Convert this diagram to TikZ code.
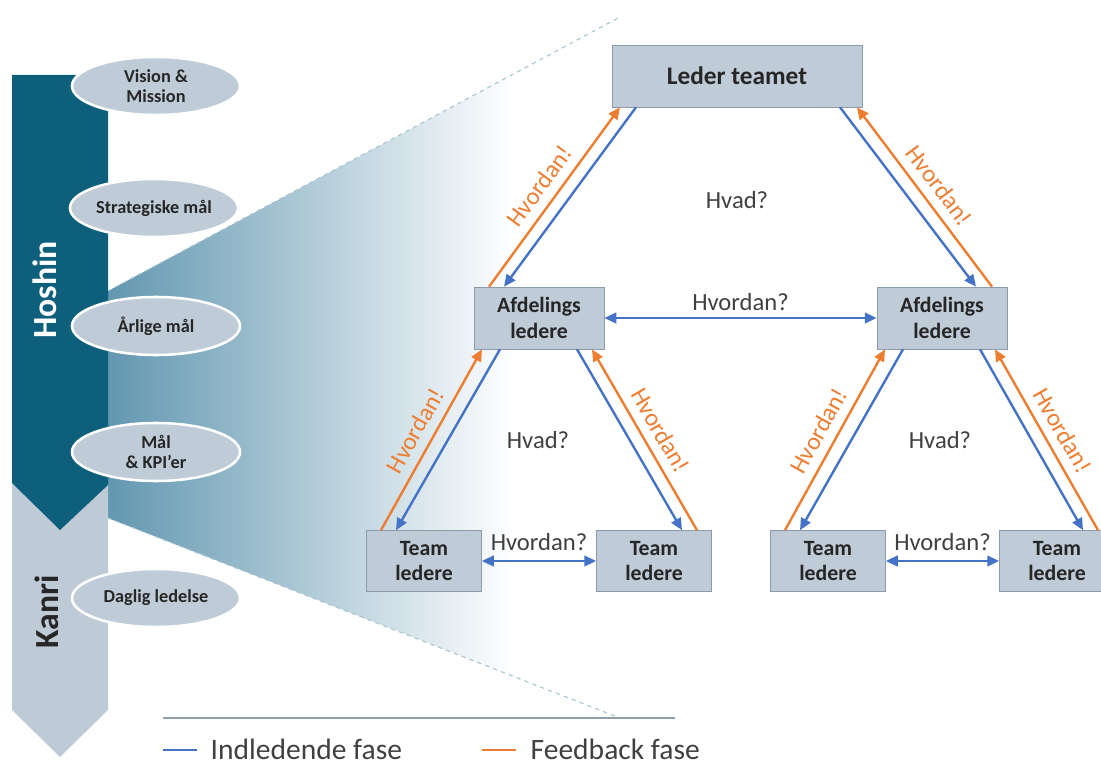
\documentclass[tikz,border=0pt]{standalone}
\usepackage{fontspec}
\setmainfont{Carlito}
\usetikzlibrary{calc,arrows.meta,shapes.geometric}
\definecolor{hoshin}{RGB}{13,95,124}
\definecolor{kanri}{RGB}{190,202,214}
\definecolor{boks}{RGB}{191,203,215}
\definecolor{kant}{RGB}{140,155,172}
\definecolor{fade}{RGB}{98,151,176}
\definecolor{blaa}{RGB}{68,114,196}
\definecolor{feedb}{RGB}{237,125,49}
\definecolor{tekst}{RGB}{64,64,64}
\definecolor{streg}{RGB}{140,160,176}
\definecolor{stiplet}{RGB}{170,196,208}
\tikzset{
  leder/.style={draw=kant, fill=boks, text=black!85, align=center, inner sep=0pt,
    font=\bfseries\fontsize{15.5}{18}\selectfont, minimum width=3.25cm, minimum height=1.55cm},
  team/.style={leder, minimum width=2.875cm, minimum height=1.525cm},
  maal/.style={ellipse, draw=white, line width=1.8pt, fill=boks, text=black!85, align=center,
    inner sep=0pt, minimum width=4.2cm, minimum height=1.45cm,
    font=\bfseries\fontsize{13}{14.5}\selectfont},
  ned/.style={blaa, line width=1.7pt, -{Triangle[length=8.5pt,width=7.5pt]}},
  op/.style={feedb, line width=1.7pt, -{Triangle[length=8.5pt,width=7.5pt]}},
  begge/.style={ned, {Triangle[length=8.5pt,width=7.5pt]}-{Triangle[length=8.5pt,width=7.5pt]}},
  hvordan/.style={feedb, font=\fontsize{17.5}{20}\selectfont, sloped, above=3pt, midway},
  spm/.style={text=tekst, font=\fontsize{17.5}{20}\selectfont},
}
\begin{document}
\begin{tikzpicture}[x=0.025cm, y=-0.025cm]
\clip (0,0) rectangle (1101,762);
\begin{scope}
\clip (108,291) -- (620,17) -- (620,718) -- (108,518) -- cycle;
\shade [left color=fade, middle color=fade!75!white, right color=white] (108,0) rectangle (515,762);
\end{scope}
\draw [stiplet, dashed, thick] (108,291) -- (620,17);
\draw [stiplet, dashed, thick] (108,518) -- (620,718);
\draw [streg, line width=2pt] (163,718) -- (675,718);

\fill [kanri] (12,483) -- (108,483) -- (108,710) -- (60,757) -- (12,710) -- cycle;
\fill [hoshin] (12,75) -- (108,75) -- (108,485) -- (60,530) -- (12,483) -- cycle;
\node [rotate=90, text=white, font=\bfseries\fontsize{24}{24}\selectfont] (hoshintxt) at (45,290) {Hoshin};
\node [rotate=90, text=black!85, font=\bfseries\fontsize{24}{24}\selectfont] (kanritxt) at (47,612) {Kanri};

\node [maal] (vision) at (156,86) {Vision \&\\Mission};
\node [maal] (strat) at (154,208) {Strategiske mål};
\node [maal] (aarlig) at (156,326) {Årlige mål};
\node [maal] (kpi) at (156,452) {Mål\\\& KPI’er};
\node [maal] (daglig) at (156,598) {Daglig ledelse};

\node [leder, minimum width=6.25cm, font=\bfseries\fontsize{18}{20}\selectfont] (lederteam) at (737,76) {Leder teamet};
\node [leder] (afdL) at (539,318) {Afdelings\\ledere};
\node [leder] (afdR) at (942,318) {Afdelings\\ledere};
\node [team] (team1) at (424,561) {Team\\ledere};
\node [team] (team2) at (654,561) {Team\\ledere};
\node [team] (team3) at (828,561) {Team\\ledere};
\node [team] (team4) at (1057,561) {Team\\ledere};

\draw [op] ($(afdL.north)+(-50,0)$) -- node [hvordan] {Hvordan!} ($(lederteam.south)+(-117,0)$);
\draw [ned] ($(lederteam.south)+(-101,0)$) -- ($(afdL.north)+(-35,0)$);
\draw [ned] ($(lederteam.south)+(103,0)$) -- ($(afdR.north)+(34,0)$);
\draw [op] ($(afdR.north)+(50,0)$) -- node [hvordan] {Hvordan!} ($(lederteam.south)+(120,0)$);

\draw [op] ($(team1.north)+(-43,0)$) -- node [hvordan] {Hvordan!} ($(afdL.south)+(-57,0)$);
\draw [ned] ($(afdL.south)+(-39,0)$) -- ($(team1.north)+(-28,0)$);
\draw [ned] ($(afdL.south)+(38,0)$) -- ($(team2.north)+(28,0)$);
\draw [op] ($(team2.north)+(43,0)$) -- node [hvordan] {Hvordan!} ($(afdL.south)+(53,0)$);

\draw [op] ($(team3.north)+(-43,0)$) -- node [hvordan] {Hvordan!} ($(afdR.south)+(-57,0)$);
\draw [ned] ($(afdR.south)+(-39,0)$) -- ($(team3.north)+(-28,0)$);
\draw [ned] ($(afdR.south)+(38,0)$) -- ($(team4.north)+(26,0)$);
\draw [op] ($(team4.north)+(41,0)$) -- node [hvordan] {Hvordan!} ($(afdR.south)+(53,0)$);

\draw [begge] (afdL) -- node [spm, above=1pt] {Hvordan?} (afdR);
\draw [begge] (team1) -- node [spm, above=3pt] {Hvordan?} (team2);
\draw [begge] (team3) -- node [spm, above=3pt] {Hvordan?} (team4);

\node [spm] (hvad1) at (737,200) {Hvad?};
\node [spm] (hvad2) at (538,440) {Hvad?};
\node [spm] (hvad3) at (940,440) {Hvad?};

\draw [blaa, line width=1.8pt] (163,750) -- (197,750);
\node [anchor=west, text=tekst, inner sep=1pt, font=\fontsize{21}{24}\selectfont] (indl) at (209,749) {Indledende fase};
\draw [feedb, line width=1.8pt] (482,750) -- (516,750);
\node [anchor=west, text=tekst, inner sep=1pt, font=\fontsize{21}{24}\selectfont] (feedback) at (529,749) {Feedback fase};
\end{tikzpicture}
\end{document}
